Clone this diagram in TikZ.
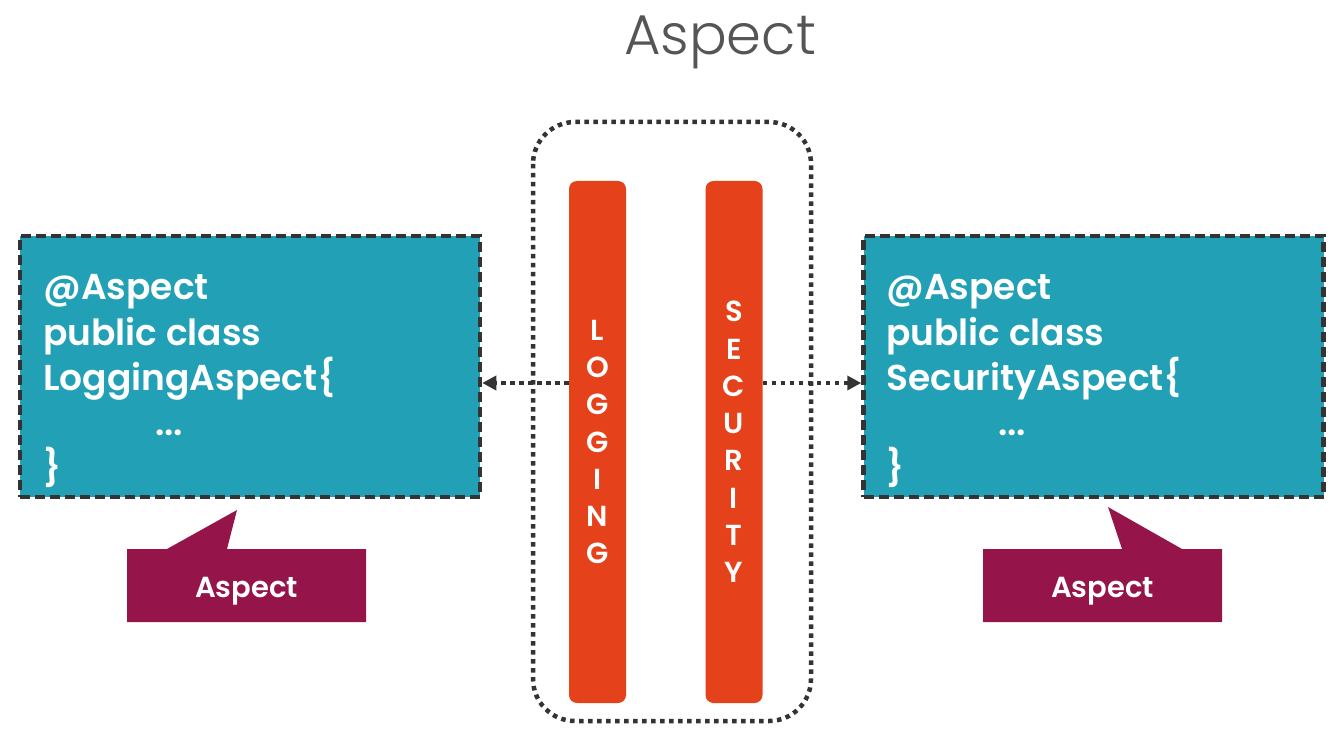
\documentclass[tikz,border=0pt]{standalone}
\usepackage{fontspec}
\setmainfont{Poppins}[UprightFont={* SemiBold}]
\newfontfamily\titlefont{Poppins}[UprightFont={* Light}]
\usetikzlibrary{arrows.meta,calc}
\definecolor{teal1}{HTML}{22A0B5}
\definecolor{border1}{HTML}{333333}
\definecolor{orange1}{HTML}{E5411B}
\definecolor{maroon1}{HTML}{95154B}
\definecolor{title1}{HTML}{555555}
\definecolor{dots1}{HTML}{333333}
\begin{document}
\begin{tikzpicture}[x=1pt,y=-1pt,
  codebox/.style={draw=border1,fill=teal1,line width=4.5pt,dash pattern=on 10pt off 5pt,minimum width=460pt,minimum height=261pt,inner sep=0pt},
  bar/.style={fill=orange1,rounded corners=8pt,minimum width=57pt,minimum height=522pt,inner sep=0pt,text=white,align=center,font=\fontsize{29}{37.3}\selectfont},
  codetext/.style={text=white,anchor=base west,font=\fontsize{36}{36}\selectfont,inner sep=0pt},
  callout/.style={fill=maroon1},
  calltext/.style={text=white,anchor=base,font=\fontsize{29}{29}\selectfont,inner sep=0pt},
  arr/.style={draw=dots1,line width=4.5pt,dash pattern=on 4.5pt off 4.5pt,-{Triangle[length=14pt,width=14pt]}}
]
\useasboundingbox (0,0) rectangle (1342,746);
\fill[white] (0,0) rectangle (1342,746);

\node[text=title1,font=\titlefont\fontsize{56}{56}\selectfont,anchor=base,inner sep=0pt] (title) at (720,55) {Aspect};

% dotted container
\draw[draw=dots1,line width=4.5pt,dash pattern=on 4.5pt off 4.5pt,rounded corners=42pt] (533,122) rectangle (811,721);
\coordinate (cont) at (672,421);

% bars
\node[bar] (lbar) at (597.5,442) {L\\O\\G\\G\\I\\N\\G};
\node[bar] (rbar) at (734,442) {S\\E\\C\\U\\R\\I\\T\\Y};

% code boxes
\node[codebox] (lbox) at (250,366.5) {};
\node[codebox] (rbox) at (1093.5,366.5) {};

\node[codetext] (l1) at (43,300) {@Aspect};
\node[codetext] (l2) at (43,345) {public class};
\node[codetext] (l3) at (43,390) {LoggingAspect\{};
\node[codetext] (l4) at (155,435) {...};
\node[codetext] (l5) at (43,480) {\}};

\node[codetext] (r1) at (886,300) {@Aspect};
\node[codetext] (r2) at (886,345) {public class};
\node[codetext] (r3) at (886,390) {SecurityAspect\{};
\node[codetext] (r4) at (998,435) {...};
\node[codetext] (r5) at (886,480) {\}};

% arrows
\coordinate (ay) at (0,383);
\draw[arr,shorten >=-10pt] (lbar.west |- ay) -- ([xshift=10pt]lbox.east |- ay);
\draw[arr,shorten >=-2pt] (rbar.east |- ay) -- ([xshift=-2pt]rbox.west |- ay);

% callouts
\fill[callout] (127,549) -- (167,549) -- (237,510) -- (227,549) -- (366,549) -- (366,622) -- (127,622) -- cycle;
\node[calltext] (lc) at (246.5,597) {Aspect};
\fill[callout] (983,549) -- (1122,549) -- (1108,507) -- (1182,549) -- (1222,549) -- (1222,622) -- (983,622) -- cycle;
\node[calltext] (rc) at (1102.5,597) {Aspect};
\end{tikzpicture}
\end{document}
